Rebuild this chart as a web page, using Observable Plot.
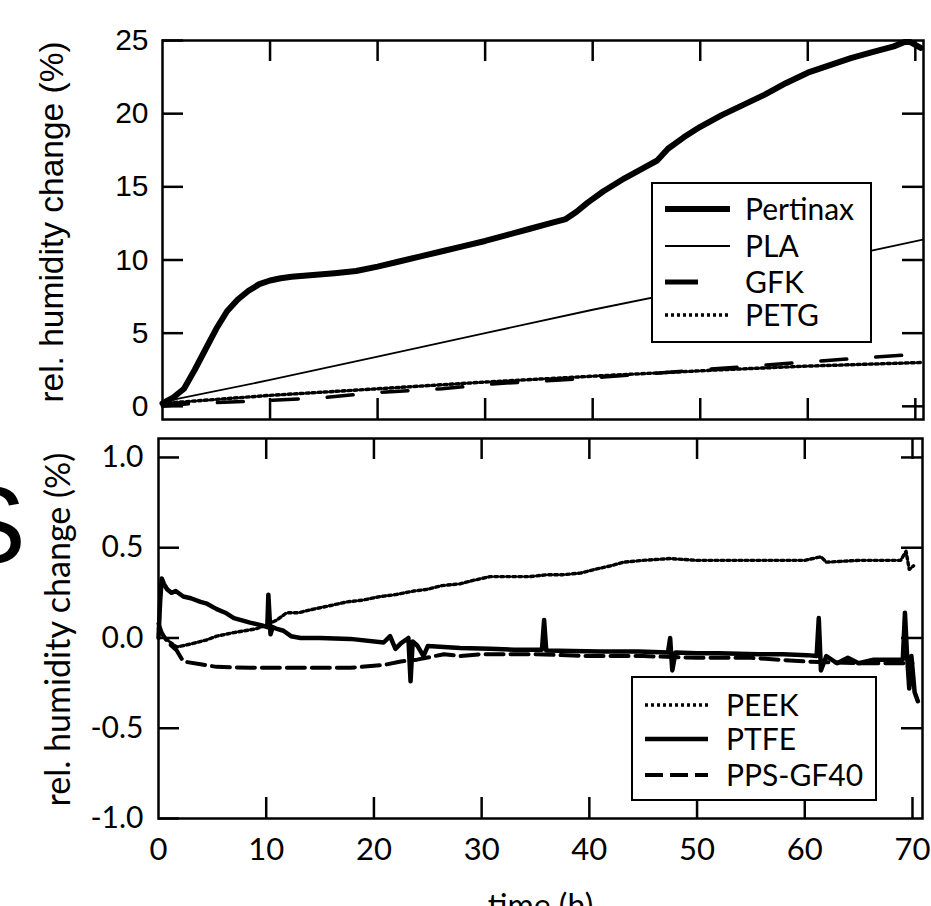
<!DOCTYPE html>
<html><head><meta charset="utf-8">
<script src="https://cdn.jsdelivr.net/npm/d3@7"></script>
<script src="https://cdn.jsdelivr.net/npm/@observablehq/plot@0.6"></script>
<style>
html,body{margin:0;padding:0;width:931px;height:906px;overflow:hidden;background:#fff;}
#wrap{position:relative;width:931px;height:906px;overflow:hidden;background:#fff;}
#wrap > svg{position:absolute;}
</style></head><body><div id="wrap"></div>
<script>
// ---------- data: top panel ----------
const pertinaxT = [0, 0.5, 1, 2, 3, 4, 5, 6, 7, 8, 9, 10, 11, 12, 14, 16, 18, 20, 22, 24, 26, 28, 30, 32, 34, 36, 37.5, 38.5, 39.5, 41, 43, 45, 46, 47, 48.5, 50, 52, 54, 56, 58, 60, 62, 64, 66, 68, 69, 69.5, 70, 70.5];
const pertinaxV = [0.2, 0.4, 0.6, 1.2, 2.5, 3.9, 5.3, 6.5, 7.3, 7.9, 8.35, 8.6, 8.75, 8.85, 8.98, 9.1, 9.25, 9.55, 9.9, 10.25, 10.6, 10.95, 11.3, 11.7, 12.1, 12.5, 12.8, 13.3, 13.9, 14.7, 15.6, 16.4, 16.8, 17.6, 18.4, 19.1, 19.9, 20.6, 21.3, 22.1, 22.8, 23.3, 23.8, 24.2, 24.6, 24.9, 24.9, 24.7, 24.5];
const plaT = [0, 10, 20, 30, 40, 50, 60, 70.7];
const plaV = [0.3, 1.8, 3.4, 5.0, 6.6, 8.1, 9.7, 11.4];
const gfkT = [0, 2.5, 10, 15, 20, 26, 31, 37, 41, 52, 63, 70];
const gfkV = [0.0, 0.18, 0.4, 0.6, 0.95, 1.2, 1.55, 1.8, 2.0, 2.6, 3.2, 3.55];
const petgT = [0, 10, 20, 30, 41, 52, 60, 70.7];
const petgV = [0.2, 0.75, 1.2, 1.66, 2.1, 2.5, 2.75, 3.0];

// ---------- data: bottom panel ----------
const peekT = [0, 0.3, 1, 1.7, 2.5, 3.2, 4.5, 5.4, 7, 8, 9, 10, 11, 11.9, 13, 14.4, 16, 17.5, 19, 20.6, 22, 23.7, 25, 26.3, 28, 29.3, 30.8, 32.5, 34.5, 36, 37.5, 39.2, 40.5, 42, 43.2, 45, 47.5, 50, 55, 60, 61.5, 62, 65, 68.9, 69.4, 69.7, 70.1];
const peekV = [0.05, 0.02, -0.02, -0.05, -0.04, -0.03, -0.01, 0.01, 0.03, 0.04, 0.05, 0.07, 0.1, 0.14, 0.14, 0.16, 0.18, 0.2, 0.21, 0.23, 0.24, 0.26, 0.27, 0.29, 0.3, 0.32, 0.34, 0.34, 0.34, 0.35, 0.35, 0.36, 0.38, 0.4, 0.42, 0.43, 0.44, 0.43, 0.43, 0.43, 0.45, 0.42, 0.43, 0.43, 0.48, 0.38, 0.4];
const ptfeT = [0, 0.15, 0.3, 0.5, 0.8, 1.2, 1.6, 2.3, 3, 3.9, 4.5, 5.4, 6.2, 7, 8.5, 9.6, 10.1, 10.2, 10.4, 10.6, 11, 11.6, 12.3, 13.2, 15, 17.8, 20.9, 21.5, 22, 22.5, 23.2, 23.4, 23.6, 24, 24.6, 25, 26.5, 28, 30.8, 33, 35.6, 35.8, 36, 38.4, 41, 44.6, 47.3, 47.5, 47.7, 48, 50, 52, 55.7, 58, 60.2, 61.1, 61.3, 61.5, 62, 63, 64, 65, 66.4, 68, 69.1, 69.3, 69.5, 69.7, 69.9, 70.2, 70.5];
const ptfeV = [0.0, 0.2, 0.33, 0.3, 0.27, 0.25, 0.26, 0.23, 0.22, 0.2, 0.19, 0.16, 0.14, 0.11, 0.085, 0.07, 0.06, 0.24, 0.02, 0.06, 0.05, 0.04, 0.01, 0.0, 0.0, -0.005, -0.025, 0.01, -0.06, -0.03, 0.0, -0.24, -0.02, -0.04, -0.1, -0.045, -0.05, -0.055, -0.06, -0.065, -0.065, 0.1, -0.07, -0.072, -0.075, -0.075, -0.08, 0.0, -0.18, -0.08, -0.085, -0.085, -0.09, -0.09, -0.095, -0.1, 0.11, -0.18, -0.1, -0.14, -0.11, -0.14, -0.12, -0.12, -0.12, 0.14, -0.1, -0.28, -0.1, -0.3, -0.35];
const ppsT = [0, 0.3, 0.8, 1.7, 2.3, 3.9, 5.4, 8.5, 12, 15, 17.8, 20.9, 22.5, 24, 26.5, 28, 30, 35, 40, 45, 50, 55, 60, 65, 70];
const ppsV = [0.08, 0.03, -0.02, -0.07, -0.13, -0.146, -0.16, -0.165, -0.165, -0.165, -0.165, -0.15, -0.13, -0.12, -0.09, -0.1, -0.09, -0.09, -0.1, -0.1, -0.11, -0.11, -0.13, -0.14, -0.14];

// ---------- ticks & labels ----------
const topYTicks = [0, 5, 10, 15, 20, 25];
const topYRightTicks = [0, 5, 10, 15, 20];
const xInnerTicks = [10, 20, 30, 40, 50, 60, 70];
const xLabelTicks = [0, 10, 20, 30, 40, 50, 60, 70];
const botYTicks = [-1, -0.5, 0, 0.5, 1];
const botYRightTicks = [-0.5, 0, 0.5, 1];
const yLabel = "rel. humidity change (%)";
const xLabel = "time (h)";
const topNames = ["Pertinax", "PLA", "GFK", "PETG"];
const botNames = ["PEEK", "PTFE", "PPS-GF40"];

const rows = (ts, vs) => ts.map((t, i) => ({t, v: vs[i]}));
const ARIAL = "Liberation Sans, Arial, sans-serif";
const LATO = "Lato, Open Sans, sans-serif";
const TL = 21; // inward tick length (px)

const topStyles = [
  {strokeWidth: 6},
  {strokeWidth: 1.8},
  {strokeWidth: 3.5, strokeDasharray: "26,29"},
  {strokeWidth: 3.4, strokeDasharray: "3,3"}
];
const botStyles = [
  {strokeWidth: 3.4, strokeDasharray: "3,3"},
  {strokeWidth: 4.5},
  {strokeWidth: 4, strokeDasharray: "18,7"}
];
const topData = [rows(pertinaxT, pertinaxV), rows(plaT, plaV), rows(gfkT, gfkV), rows(petgT, petgV)];
const botData = [rows(peekT, peekV), rows(ptfeT, ptfeV), rows(ppsT, ppsV)];

const wrap = document.getElementById("wrap");

// inward ticks as short rules along the frame edges
function innerTicks(fw, fh, xTop, xBottom, yLeft, yRight) {
  const o = {stroke: "#000", strokeWidth: 2.5};
  return [
    Plot.ruleX(xTop, {x: d => d, insetBottom: fh - TL, ...o}),
    Plot.ruleX(xBottom, {x: d => d, insetTop: fh - TL, ...o}),
    Plot.ruleY(yLeft, {y: d => d, insetRight: fw - TL, ...o}),
    Plot.ruleY(yRight, {y: d => d, insetLeft: fw - TL, ...o})
  ];
}

const T = {w: 931, h: 425, ml: 162, mr: 8, mt: 40, mb: 6};
const topChart = Plot.plot({
  width: T.w, height: T.h,
  marginLeft: T.ml, marginRight: T.mr, marginTop: T.mt, marginBottom: T.mb,
  x: {domain: [0, 70.76], axis: null},
  y: {domain: [-0.9, 25]},
  style: {background: "transparent", color: "#000", fontFamily: ARIAL},
  marks: [
    ...topData.map((d, i) => Plot.line(d, {x: "t", y: "v", stroke: "#000", strokeLinejoin: "round", ...topStyles[i]})),
    Plot.frame({stroke: "#000", strokeWidth: 2.5}),
    ...innerTicks(T.w - T.ml - T.mr, T.h - T.mt - T.mb, xInnerTicks, xInnerTicks, topYTicks, topYRightTicks),
    Plot.axisY(topYTicks, {anchor: "left", tickSize: 0, stroke: "none", tickPadding: 14, label: null, fontFamily: ARIAL, fontSize: 30, tickFormat: d => String(d)}),
    Plot.text([yLabel], {frameAnchor: "left", rotate: -90, dx: -100, dy: -8, lineAnchor: "bottom", textAnchor: "middle", fontFamily: ARIAL, fontSize: 33.5, fill: "#000"})
  ]
});
topChart.style.left = "0px"; topChart.style.top = "0px";
wrap.append(topChart);

const B = {w: 931, h: 481, ml: 158, mr: 9, mt: 13, mb: 88};
const botChart = Plot.plot({
  width: B.w, height: B.h,
  marginLeft: B.ml, marginRight: B.mr, marginTop: B.mt, marginBottom: B.mb,
  x: {domain: [0, 70.93]},
  y: {domain: [-1, 1.105]},
  style: {background: "transparent", color: "#000", fontFamily: LATO},
  marks: [
    ...botData.map((d, i) => Plot.line(d, {x: "t", y: "v", stroke: "#000", strokeLinejoin: "round", ...botStyles[i]})),
    Plot.frame({stroke: "#000", strokeWidth: 2.5}),
    ...innerTicks(B.w - B.ml - B.mr, B.h - B.mt - B.mb, xInnerTicks, xInnerTicks, botYTicks, botYRightTicks),
    Plot.axisY(botYTicks, {anchor: "left", tickSize: 0, stroke: "none", tickPadding: 15, label: null, fontFamily: LATO, fontSize: 30, tickFormat: d => d.toFixed(1)}),
    Plot.axisX(xLabelTicks, {anchor: "bottom", tickSize: 0, stroke: "none", tickPadding: 19, label: null, fontFamily: LATO, fontSize: 31, tickFormat: d => String(d)}),
    Plot.text([yLabel], {frameAnchor: "left", rotate: -90, dx: -89, dy: 1, lineAnchor: "bottom", textAnchor: "middle", fontFamily: LATO, fontSize: 34, fill: "#000"}),
    Plot.text([xLabel], {frameAnchor: "bottom", dy: 98, lineAnchor: "bottom", textAnchor: "middle", fontFamily: LATO, fontSize: 32, fill: "#000"}),
    Plot.text(["S"], {frameAnchor: "left", dx: -206, dy: -66, lineAnchor: "bottom", textAnchor: "start", fontFamily: ARIAL, fontSize: 110, fill: "#000"})
  ]
});
botChart.style.left = "0px"; botChart.style.top = "425px";
wrap.append(botChart);

// ---------- legends ----------
function legend(names, styles, box, rowY, sx0, sx1, tx) {
  const svg = d3.select(wrap).append("svg")
    .attr("width", 931).attr("height", 906)
    .style("left", "0px").style("top", "0px").style("position", "absolute");
  svg.append("rect").attr("x", box[0]).attr("y", box[1]).attr("width", box[2] - box[0]).attr("height", box[3] - box[1])
    .attr("fill", "#fff").attr("stroke", "#000").attr("stroke-width", 2);
  names.forEach((n, i) => {
    svg.append("line").attr("x1", sx0).attr("x2", sx1).attr("y1", rowY[i]).attr("y2", rowY[i])
      .attr("stroke", "#000").attr("stroke-width", styles[i].strokeWidth)
      .attr("stroke-dasharray", styles[i].legendDash || styles[i].strokeDasharray || null);
    svg.append("text").attr("x", tx).attr("y", rowY[i]).attr("dy", "0.35em")
      .attr("font-family", LATO).attr("font-size", 30).attr("fill", "#000").text(n);
  });
}
legend(topNames, [topStyles[0], topStyles[1], {strokeWidth: 5, legendDash: "33,40"}, topStyles[3]],
  [652, 183, 871, 342], [209, 246, 282, 315], 665, 730, 745);
legend(botNames, [botStyles[0], botStyles[1], botStyles[2]],
  [632, 677, 876, 800], [705, 739, 775], 645, 708, 726);
</script></body></html>
